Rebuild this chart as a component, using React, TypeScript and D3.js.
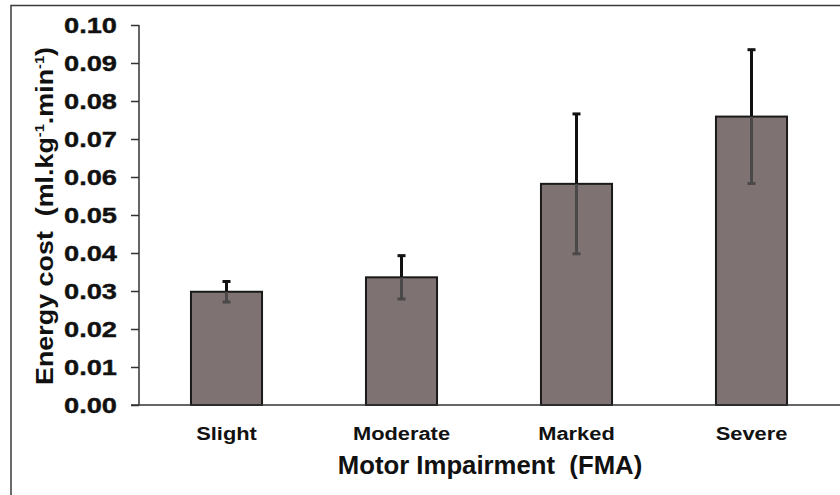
import { useEffect, useRef } from 'react';
import * as d3 from 'd3';

const categories = ['Slight', 'Moderate', 'Marked', 'Severe'];
const means = [0.0298, 0.0336, 0.0582, 0.0759];
const errors = [0.0027, 0.0057, 0.0184, 0.0176];
const yTicks = [0, 0.01, 0.02, 0.03, 0.04, 0.05, 0.06, 0.07, 0.08, 0.09, 0.1];

const W = 840;
const H = 495;

export default function App() {
  const svgRef = useRef<SVGSVGElement>(null);

  useEffect(() => {
    if (!svgRef.current) return;
    const svg = d3.select(svgRef.current);
    svg.selectAll('*').remove();

    const font = 'Liberation Sans, Arial, sans-serif';
    const axisColor = '#333';

    // outer frame (left + top only, the rest is cropped)
    svg.append('path')
      .attr('d', `M11,${H} L11,5.5 L${W},5.5`)
      .attr('fill', 'none')
      .attr('stroke', '#3a3a3a')
      .attr('stroke-width', 1.5);

    const x = d3.scaleBand<string>()
      .domain(categories)
      .range([139, 839])
      .paddingInner(0.594)
      .paddingOuter(0.297);

    const y = d3.scaleLinear().domain([0, 0.1]).range([405, 25]);

    const g = svg.append('g');

    // bars
    g.selectAll('.bar')
      .data(categories)
      .enter()
      .append('rect')
      .attr('class', 'bar')
      .attr('x', d => x(d)!)
      .attr('width', x.bandwidth())
      .attr('y', (d, i) => y(means[i]))
      .attr('height', (d, i) => y(0) - y(means[i]))
      .attr('fill', '#7f7272')
      .attr('stroke', '#1a1a1a')
      .attr('stroke-width', 2);

    // error bars: upper black, lower grey inside bar
    categories.forEach((c, i) => {
      const cx = x(c)! + x.bandwidth() / 2;
      const top = y(means[i] + errors[i]);
      const mid = y(means[i]);
      const bot = y(means[i] - errors[i]);
      g.append('line')
        .attr('x1', cx).attr('x2', cx)
        .attr('y1', top).attr('y2', mid)
        .attr('stroke', '#111').attr('stroke-width', 3);
      g.append('line')
        .attr('x1', cx - 4).attr('x2', cx + 4)
        .attr('y1', top).attr('y2', top)
        .attr('stroke', '#111').attr('stroke-width', 3);
      g.append('line')
        .attr('x1', cx).attr('x2', cx)
        .attr('y1', mid).attr('y2', bot)
        .attr('stroke', '#4a4848').attr('stroke-width', 3);
      g.append('line')
        .attr('x1', cx - 4).attr('x2', cx + 4)
        .attr('y1', bot).attr('y2', bot)
        .attr('stroke', '#4a4848').attr('stroke-width', 3);
    });

    // y axis
    const yAxis = svg.append('g')
      .attr('transform', 'translate(139,0)')
      .call(d3.axisLeft(y).tickValues(yTicks).tickSize(8).tickPadding(14).tickFormat(d3.format('.2f')));
    yAxis.select('.domain').attr('d', `M0,${y(0.1)}V${y(0)}`).attr('stroke', axisColor).attr('stroke-width', 1.5);
    yAxis.selectAll('.tick line').attr('stroke', axisColor).attr('stroke-width', 1.5);
    yAxis.selectAll('.tick text')
      .attr('font-family', font)
      .attr('font-weight', 'bold')
      .attr('font-size', 22)
      .attr('fill', '#111')
      .attr('stroke', '#111')
      .attr('stroke-width', 0.4)
      .attr('textLength', 53)
      .attr('lengthAdjust', 'spacingAndGlyphs');

    // x axis
    const xAxis = svg.append('g')
      .attr('transform', 'translate(0,405)')
      .call(d3.axisBottom(x).tickSize(0).tickPadding(22));
    xAxis.select('.domain').attr('d', `M131,0H${W}`).attr('stroke', axisColor).attr('stroke-width', 1.5);
    xAxis.selectAll('.tick text')
      .attr('font-family', font)
      .attr('font-weight', 'bold')
      .attr('font-size', 19)
      .attr('fill', '#111')
      .attr('transform', 'scale(1.15,1)');

    // axis titles
    svg.append('text')
      .attr('transform', 'translate(490,474) scale(1.03,1)')
      .attr('text-anchor', 'middle')
      .attr('font-family', font)
      .attr('font-weight', 'bold')
      .attr('font-size', 25)
      .attr('fill', '#111')
      .attr('xml:space', 'preserve')
      .text('Motor Impairment  (FMA)');

    const yt = svg.append('text')
      .attr('transform', 'translate(53,216) rotate(-90) scale(1.12,1)')
      .attr('text-anchor', 'middle')
      .attr('font-family', font)
      .attr('font-weight', 'bold')
      .attr('font-size', 24)
      .attr('fill', '#111')
      .attr('xml:space', 'preserve');
    yt.append('tspan').text('Energy cost  (ml.kg');
    yt.append('tspan').attr('font-size', 13).attr('dy', -9).text('-1');
    yt.append('tspan').attr('dy', 9).text('.min');
    yt.append('tspan').attr('font-size', 13).attr('dy', -9).text('-1');
    yt.append('tspan').attr('dy', 9).text(')');
  }, []);

  return (
    <svg
      ref={svgRef}
      width={W}
      height={H}
      style={{ display: 'block', position: 'absolute', left: 0, top: 0, background: '#fff' }}
    />
  );
}
